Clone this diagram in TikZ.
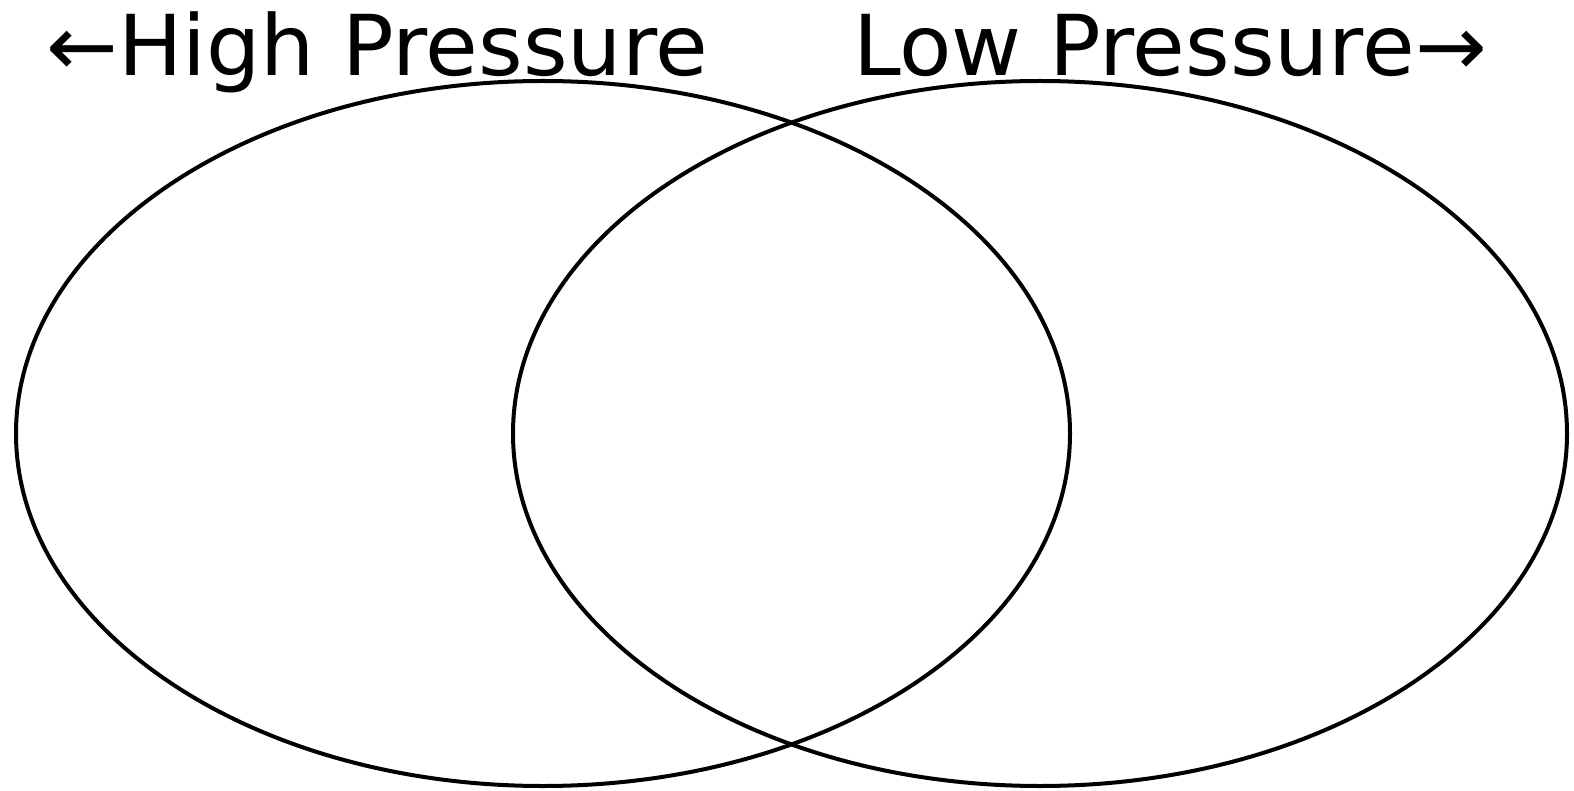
\documentclass[tikz,border=0pt]{standalone}
\usepackage{fontspec}
\setmainfont{DejaVu Sans}[FakeStretch=1.02]
\usetikzlibrary{shapes.geometric}
\tikzset{
  venn/.style={ellipse, draw=black, line width=4pt, inner sep=0pt,
    minimum width=1054pt, minimum height=705pt},
  label/.style={inner sep=0pt, font=\fontsize{84}{100}\selectfont}
}
\begin{document}
\begin{tikzpicture}[x=1pt,y=-1pt]
\useasboundingbox (0,0) rectangle (1574,791);
\node[venn] (high) at (543,433.5) {};
\node[venn] (low) at (1040,433.5) {};
\node[label, anchor=base west] (hl) at (46,76) {←High Pressure};
\node[label, anchor=base east] (ll) at (1487,76) {Low Pressure→};
\end{tikzpicture}
\end{document}
